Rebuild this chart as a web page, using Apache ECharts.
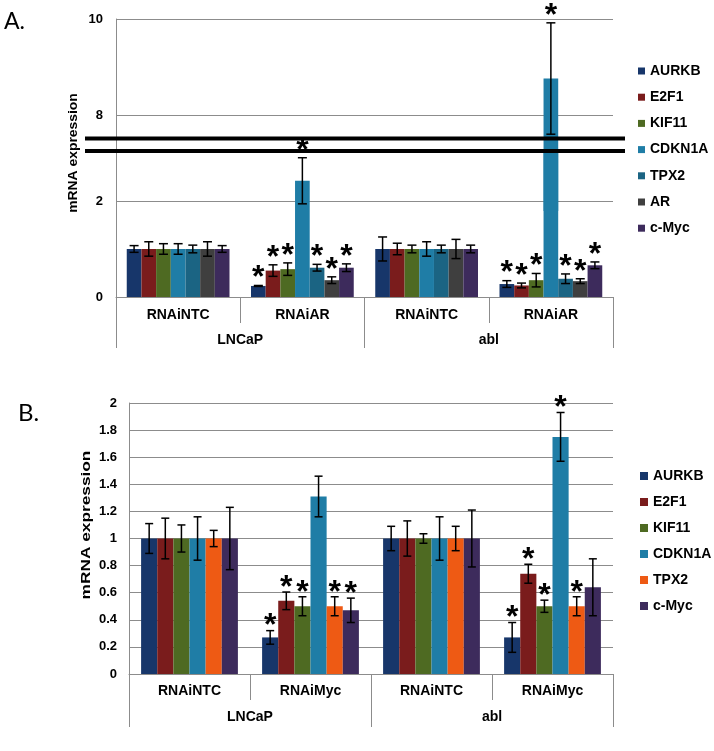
<!DOCTYPE html>
<html><head><meta charset="utf-8">
<script src="https://cdn.jsdelivr.net/npm/echarts@6/dist/echarts.min.js"></script>
<style>html,body{margin:0;padding:0;background:#fff}#c{width:714px;height:751px}</style>
</head><body><div id="c"></div>
<script>
// ---------- Panel A data ----------
var conditionsA = ['RNAiNTC', 'RNAiAR', 'RNAiNTC', 'RNAiAR'];
var cellLinesA = ['LNCaP', 'abl'];
var genesA = ['AURKB', 'E2F1', 'KIF11', 'CDKN1A', 'TPX2', 'AR', 'c-Myc'];
var yTickLabelsA = [0, 2, 8, 10];

var valA_AURKB  = [1.00, 0.23, 1.00, 0.27];
var valA_E2F1   = [1.00, 0.55, 1.00, 0.24];
var valA_KIF11  = [1.00, 0.58, 1.00, 0.35];
var valA_CDKN1A = [1.00, 2.42, 1.00, 8.76];
var valA_TPX2   = [1.00, 0.61, 1.00, 0.38];
var valA_AR     = [1.00, 0.35, 1.00, 0.33];
var valA_cMyc   = [1.00, 0.61, 1.00, 0.66];

var errA_AURKB  = [0.07, 0.01, 0.25, 0.07];
var errA_E2F1   = [0.15, 0.12, 0.12, 0.05];
var errA_KIF11  = [0.11, 0.13, 0.08, 0.14];
var errA_CDKN1A = [0.11, 0.48, 0.15, 1.16];
var errA_TPX2   = [0.08, 0.07, 0.08, 0.10];
var errA_AR     = [0.15, 0.07, 0.20, 0.05];
var errA_cMyc   = [0.07, 0.08, 0.08, 0.07];

var starA_AURKB  = [0, 1, 0, 1];
var starA_E2F1   = [0, 1, 0, 1];
var starA_KIF11  = [0, 1, 0, 1];
var starA_CDKN1A = [0, 1, 0, 1];
var starA_TPX2   = [0, 1, 0, 1];
var starA_AR     = [0, 1, 0, 1];
var starA_cMyc   = [0, 1, 0, 1];

// ---------- Panel B data ----------
var conditionsB = ['RNAiNTC', 'RNAiMyc', 'RNAiNTC', 'RNAiMyc'];
var cellLinesB = ['LNCaP', 'abl'];
var genesB = ['AURKB', 'E2F1', 'KIF11', 'CDKN1A', 'TPX2', 'c-Myc'];

var valB_AURKB  = [1.00, 0.27, 1.00, 0.27];
var valB_E2F1   = [1.00, 0.54, 1.00, 0.74];
var valB_KIF11  = [1.00, 0.50, 1.00, 0.50];
var valB_CDKN1A = [1.00, 1.31, 1.00, 1.75];
var valB_TPX2   = [1.00, 0.50, 1.00, 0.50];
var valB_cMyc   = [1.00, 0.47, 1.00, 0.64];

var errB_AURKB  = [0.11, 0.05, 0.09, 0.11];
var errB_E2F1   = [0.15, 0.065, 0.13, 0.07];
var errB_KIF11  = [0.10, 0.07, 0.035, 0.045];
var errB_CDKN1A = [0.16, 0.15, 0.16, 0.18];
var errB_TPX2   = [0.06, 0.07, 0.09, 0.07];
var errB_cMyc   = [0.23, 0.09, 0.21, 0.21];

var starB_AURKB  = [0, 1, 0, 1];
var starB_E2F1   = [0, 1, 0, 1];
var starB_KIF11  = [0, 1, 0, 1];
var starB_CDKN1A = [0, 0, 0, 1];
var starB_TPX2   = [0, 1, 0, 1];
var starB_cMyc   = [0, 1, 0, 0];

// ---------- styles ----------
var FONT = '"Liberation Sans", Arial, sans-serif';
var GRID_LINE = '#8c8c8c';
var colorsA = ['#17366A', '#7A1C1C', '#4E6A22', '#1F7DA6', '#1B6483', '#3F3F3F', '#3D2B5C'];
var colorsB = ['#17366A', '#7A1C1C', '#4E6A22', '#1F7DA6', '#EE5A14', '#3D2B5C'];
var GAP_A = 0.173, GAP_B = 0.20;
var breakLow = 3.04, breakHigh = 7.5;

var valuesA = [valA_AURKB, valA_E2F1, valA_KIF11, valA_CDKN1A, valA_TPX2, valA_AR, valA_cMyc];
var errorsA = [errA_AURKB, errA_E2F1, errA_KIF11, errA_CDKN1A, errA_TPX2, errA_AR, errA_cMyc];
var starsA  = [starA_AURKB, starA_E2F1, starA_KIF11, starA_CDKN1A, starA_TPX2, starA_AR, starA_cMyc];
var valuesB = [valB_AURKB, valB_E2F1, valB_KIF11, valB_CDKN1A, valB_TPX2, valB_cMyc];
var errorsB = [errB_AURKB, errB_E2F1, errB_KIF11, errB_CDKN1A, errB_TPX2, errB_cMyc];
var starsB  = [starB_AURKB, starB_E2F1, starB_KIF11, starB_CDKN1A, starB_TPX2, starB_cMyc];

function errRenderer(n, gapRatio, capHalf, idx, starGap) {
  return function (params, api) {
    var cat = api.value(0), v = api.value(1), e = api.value(2), s = api.value(3);
    var band = api.size([1, 0])[0];
    var bw = band * (1 - gapRatio) / n;
    var cx = api.coord([cat, v])[0] + (idx - (n - 1) / 2) * bw;
    var yt = api.coord([cat, v + e])[1];
    var yb = api.coord([cat, v - e])[1];
    var st = { stroke: '#000', lineWidth: 1.5 };
    var children = [
      { type: 'line', shape: { x1: cx, y1: yt, x2: cx, y2: yb }, style: st },
      { type: 'line', shape: { x1: cx - capHalf, y1: yt, x2: cx + capHalf, y2: yt }, style: st },
      { type: 'line', shape: { x1: cx - capHalf, y1: yb, x2: cx + capHalf, y2: yb }, style: st }
    ];
    if (s) {
      children.push({ type: 'text', x: cx, y: yt - starGap,
        style: { text: '*', font: 'bold 32px ' + FONT, fill: '#000', align: 'center', verticalAlign: 'middle' } });
    }
    return { type: 'group', children: children };
  };
}

var series = [];
genesA.forEach(function (g, i) {
  var vals = valuesA[i];
  series.push({ type: 'bar', name: g, xAxisIndex: 1, yAxisIndex: 1, data: vals, clip: true,
    barGap: '0%', barCategoryGap: (GAP_A * 100) + '%', itemStyle: { color: colorsA[i] }, z: 2 });
  series.push({ type: 'bar', name: g, xAxisIndex: 0, yAxisIndex: 0, clip: true,
    data: vals.map(function (v) { return v > breakHigh ? v : '-'; }),
    barGap: '0%', barCategoryGap: (GAP_A * 100) + '%', itemStyle: { color: colorsA[i] }, z: 2 });
});
genesA.forEach(function (g, i) {
  var low = [], high = [];
  valuesA[i].forEach(function (v, c) {
    var item = [c, v, errorsA[i][c], starsA[i][c]];
    if (v > breakHigh) high.push(item); else low.push(item);
  });
  series.push({ type: 'custom', name: g + ' err', xAxisIndex: 1, yAxisIndex: 1, data: low, z: 5,
    renderItem: errRenderer(genesA.length, GAP_A, 4.5, i, 7) });
  series.push({ type: 'custom', name: g + ' err', xAxisIndex: 0, yAxisIndex: 0, data: high, z: 5,
    renderItem: errRenderer(genesA.length, GAP_A, 4.5, i, 7) });
});
genesB.forEach(function (g, i) {
  series.push({ type: 'bar', name: g, xAxisIndex: 3, yAxisIndex: 2, data: valuesB[i], clip: true,
    barGap: '0%', barCategoryGap: (GAP_B * 100) + '%', itemStyle: { color: colorsB[i] }, z: 2 });
});
genesB.forEach(function (g, i) {
  var d = valuesB[i].map(function (v, c) { return [c, v, errorsB[i][c], starsB[i][c]]; });
  series.push({ type: 'custom', name: g + ' err', xAxisIndex: 3, yAxisIndex: 2, data: d, z: 5,
    renderItem: errRenderer(genesB.length, GAP_B, 4, i, 4) });
});

var labelFont = { fontFamily: FONT, fontWeight: 'bold', color: '#000' };
function catAxis(grid, data, tickLen, margin) {
  return { gridIndex: grid, type: 'category', data: data, position: 'bottom',
    axisLine: { show: true, lineStyle: { color: GRID_LINE, width: 1 } },
    axisTick: { show: true, length: tickLen, alignWithLabel: false, lineStyle: { color: GRID_LINE, width: 1 } },
    axisLabel: Object.assign({ margin: margin, interval: 0, fontSize: 14 }, labelFont),
    splitLine: { show: false } };
}
function valAxis(grid, min, max, interval, fmt, fontSize) {
  return { gridIndex: grid, type: 'value', min: min, max: max, interval: interval,
    axisLine: { show: true, lineStyle: { color: GRID_LINE, width: 1 } },
    axisTick: { show: false },
    axisLabel: Object.assign({ margin: 12, fontSize: fontSize, formatter: fmt }, labelFont),
    splitLine: { show: true, lineStyle: { color: GRID_LINE, width: 1 } } };
}

var xAxisB2 = catAxis(2, cellLinesB, 53, 36);
xAxisB2.axisLine = { show: false };
var xAxisA2 = catAxis(1, cellLinesA, 51, 36);
xAxisA2.axisLine = { show: false };

var yA0 = valAxis(0, 6, 10, 2, function (v) { return yTickLabelsA.indexOf(v) >= 0 ? String(v) : ''; }, 13);
yA0.axisLabel.margin = 13; yA0.axisLabel.showMinLabel = false;
yA0.splitLine.showMinLine = false;
var yA1 = valAxis(1, 0, breakLow, 2, function (v) { return yTickLabelsA.indexOf(v) >= 0 ? String(v) : ''; }, 13);
yA1.axisLabel.margin = 13; yA1.axisLabel.showMaxLabel = false;

var legendText = { fontSize: 14, fontWeight: 'bold', fontFamily: FONT, color: '#000', lineHeight: 16 };

var option = {
  animation: false,
  backgroundColor: '#fff',
  grid: [
    { left: 116, right: 101, top: 19, height: 192 },
    { left: 116, right: 101, top: 151, height: 146 },
    { left: 129, right: 101, top: 403, height: 271 }
  ],
  xAxis: [
    { gridIndex: 0, type: 'category', data: conditionsA, show: false },
    catAxis(1, conditionsA, 26, 11),
    xAxisA2,
    catAxis(2, conditionsB, 26, 10),
    xAxisB2
  ],
  yAxis: [yA0, yA1, valAxis(2, 0, 2, 0.2, null, 13)],
  legend: [
    { left: 638, top: 63, padding: 0, orient: 'vertical', icon: 'rect', itemWidth: 7, itemHeight: 7, itemGap: 10.2,
      selectedMode: false, textStyle: legendText,
      data: genesA.map(function (g, i) { return { name: g, itemStyle: { color: colorsA[i] } }; }) },
    { left: 640, top: 468, padding: 0, orient: 'vertical', icon: 'rect', itemWidth: 8, itemHeight: 8, itemGap: 10,
      selectedMode: false, textStyle: legendText,
      data: genesB.map(function (g, i) { return { name: g, itemStyle: { color: colorsB[i] } }; }) }
  ],
  graphic: [
    { type: 'rect', z: 100, shape: { x: 85, y: 136.5, width: 540, height: 4 }, style: { fill: '#000' } },
    { type: 'rect', z: 100, shape: { x: 85, y: 149, width: 540, height: 4 }, style: { fill: '#000' } },
    { type: 'text', z: 100, x: 4, y: 10, style: { text: 'A.', font: '23px Lato, "Open Sans", sans-serif', fill: '#000' } },
    { type: 'text', z: 100, x: 18, y: 401, style: { text: 'B.', font: '24px Lato, "Open Sans", sans-serif', fill: '#000' } },
    { type: 'text', z: 100, x: 74, y: 153, rotation: Math.PI / 2, scaleX: 1.11,
      style: { text: 'mRNA expression', font: 'bold 12.5px ' + FONT, fill: '#000', align: 'center', verticalAlign: 'middle' } },
    { type: 'text', z: 100, x: 86, y: 525, rotation: Math.PI / 2, scaleX: 1.28,
      style: { text: 'mRNA expression', font: 'bold 13.5px ' + FONT, fill: '#000', align: 'center', verticalAlign: 'middle' } }
  ],
  series: series
};

var chart = echarts.init(document.getElementById('c'), null, { renderer: 'canvas' });
chart.setOption(option);
</script>
</body></html>
